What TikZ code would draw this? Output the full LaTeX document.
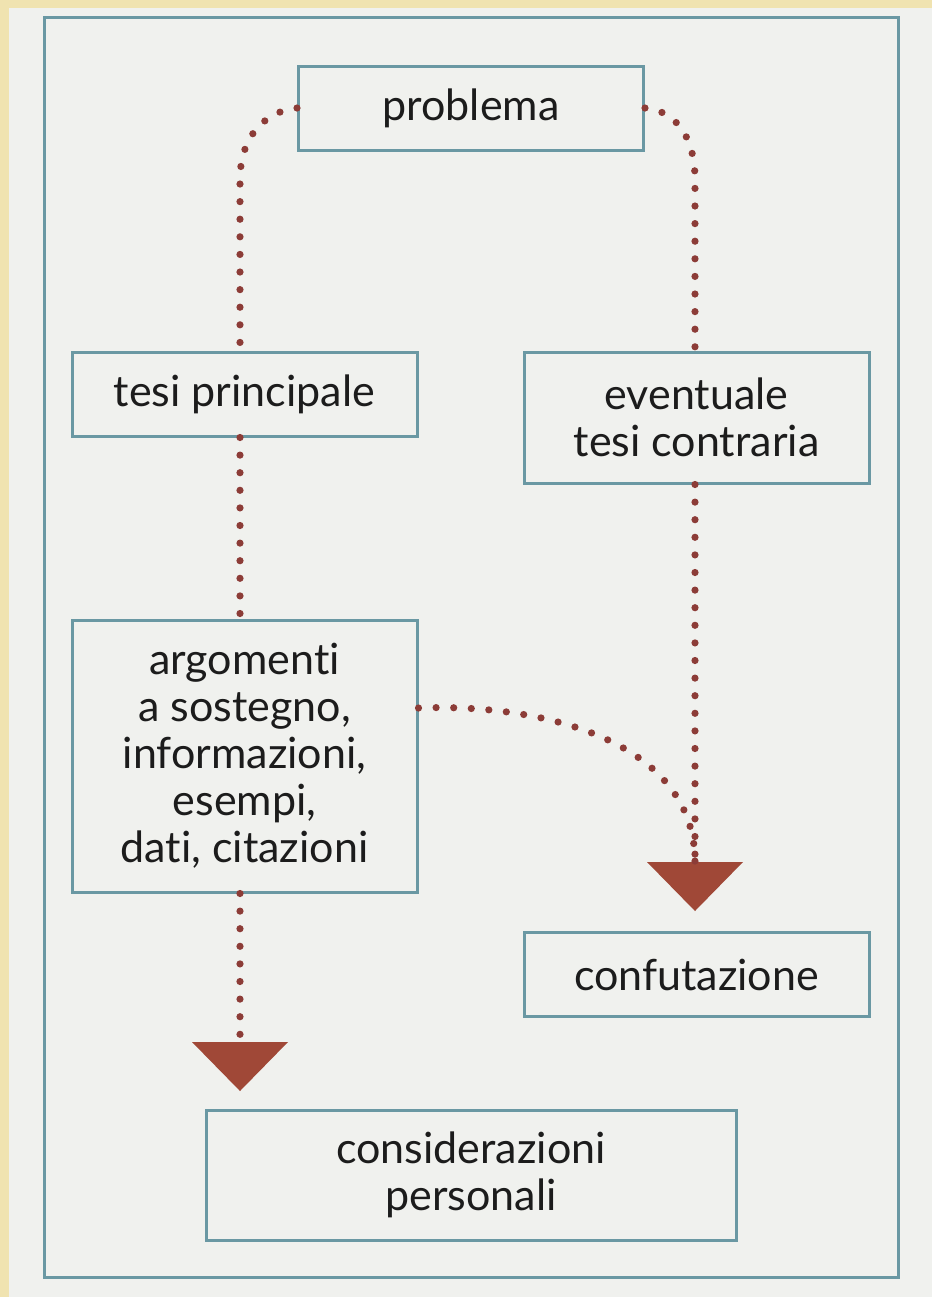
\documentclass[tikz,border=0pt]{standalone}
\usepackage{fontspec}
\setmainfont[Ligatures=NoCommon]{Lato}
\usetikzlibrary{arrows.meta}
\definecolor{pagey}{HTML}{F0E3B0}
\definecolor{paper}{HTML}{F0F1EE}
\definecolor{framec}{HTML}{6A98A3}
\definecolor{dotc}{HTML}{8C3C37}
\definecolor{arrowc}{HTML}{A04837}
\definecolor{txtc}{HTML}{1C1C1C}
\tikzset{
  x=0.5pt, y=-0.5pt,
  box/.style={draw=framec, line width=1.5pt, align=center, inner sep=0pt,
    text=txtc, font=\fontsize{21.5pt}{23.5pt}\selectfont,
    minimum width=172.5pt, minimum height=42pt},
  dotline/.style={draw=dotc, line width=3.6pt, line cap=round, dash pattern=on 0pt off 8.8pt},
  headtip/.style={-{Triangle[length=24.5pt,width=48pt,line width=0pt,color=arrowc]}}
}
\begin{document}
\begin{tikzpicture}
\useasboundingbox (0,0) rectangle (932,1297);
\fill[pagey] (0,0) rectangle (932,1297);
\fill[paper] (9,8) rectangle (932,1297);
\draw[framec, line width=1.5pt] (44,17) rectangle (898,1277);

\node[box] (prob) at (471,108) {problema};
\node[box] (tp) at (244.5,394) {tesi principale};
\node[box, minimum height=65.5pt] (evt) at (696.5,417.5) {eventuale\\tesi contraria};
\node[box, minimum height=136pt] (arg) at (244.5,756) {argomenti\\a sostegno,\\informazioni,\\esempi,\\dati, citazioni};
\node[box] (conf) at (696.5,974.5) {confutazione};
\node[box, minimum width=265pt, minimum height=65pt] (cons) at (471,1175) {considerazioni\\personali};

\coordinate (bendL) at (240,180);
\coordinate (bendR) at (695,180);
\coordinate (tipL) at (240,1091);
\coordinate (tipR) at (695,911);
\coordinate (baseR) at (695,862);

\draw[dotline] (prob.west) .. controls (272,110) and (240,130) .. (bendL) -- (tp.north -| bendL);
\draw[dotline] (prob.east) .. controls (670,110) and (695,130) .. (bendR) -- (evt.north -| bendR);
\draw[dotline] (tp.south -| tipL) -- (arg.north -| tipL);
\draw[dotline, headtip] (arg.south -| tipL) -- (tipL);
\draw[dotline, headtip] (evt.south -| tipR) -- (tipR);
\draw[dotline] ([yshift=24pt]arg.east) .. controls (540,703) and (695,740) .. (baseR);
\end{tikzpicture}
\end{document}
